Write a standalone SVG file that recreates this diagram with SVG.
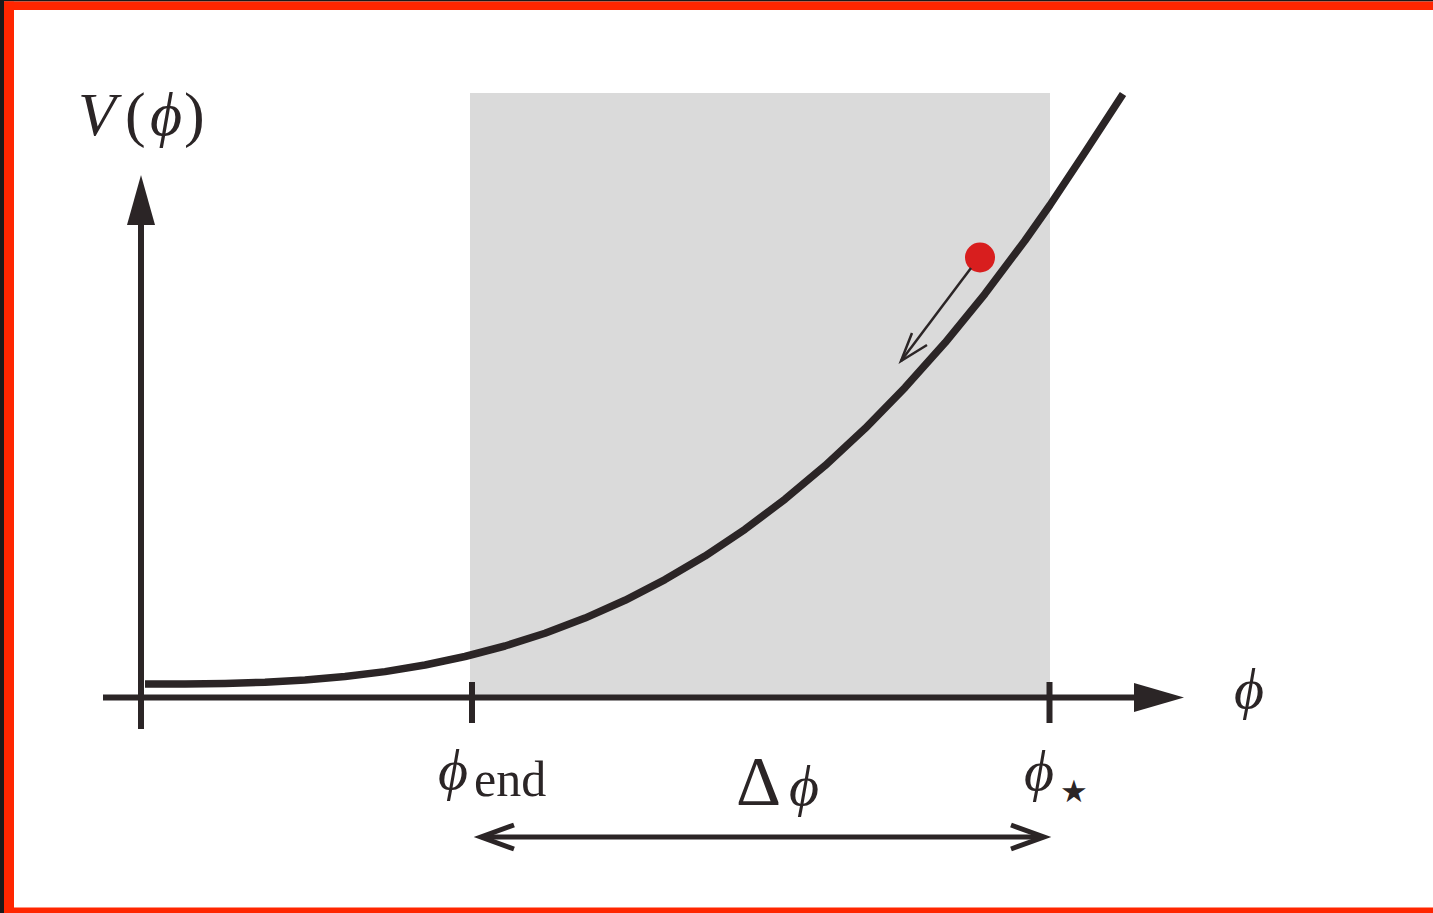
<svg xmlns="http://www.w3.org/2000/svg" width="1433" height="913" viewBox="0 0 1433 913">
<style>
.ax{stroke:#2b2526;stroke-width:6;fill:none}
.crv{stroke:#2b2526;stroke-width:7.5;fill:none;stroke-linecap:butt;stroke-linejoin:round}
.thin{stroke:#2b2526;stroke-width:2.5;fill:none}
.dbl{stroke:#2b2526;stroke-width:5;fill:none}
.m{font-family:"Liberation Serif","DejaVu Serif",serif;fill:#2b2526}
.i{font-style:italic}
</style>
<rect x="0" y="0" width="1433" height="913" fill="#ffffff"/>
<rect x="0" y="0" width="1433" height="1.5" fill="#1a1a1a"/>
<rect x="0" y="0" width="4" height="913" fill="#1a1a1a"/>
<rect x="4" y="1.5" width="1429" height="8.5" fill="#ff2600"/>
<rect x="4" y="1.5" width="10" height="911.5" fill="#ff2600"/>
<rect x="4" y="907.5" width="1429" height="5.5" fill="#ff2600"/>
<g id="region">
<rect x="470" y="93" width="580" height="604" fill="#dadada"/>
</g>
<g id="axes">
<line class="ax" x1="103" y1="697.5" x2="1140" y2="697.5"/>
<polygon points="1134,683 1184,697.5 1134,712" fill="#2b2526"/>
<line class="ax" x1="141" y1="729" x2="141" y2="220"/>
<polygon points="127,225 141,175 155,225" fill="#2b2526"/>
<line class="ax" x1="472" y1="682" x2="472" y2="723"/>
<line class="ax" x1="1049.5" y1="682" x2="1049.5" y2="723"/>
</g>
<g id="curve">
<polyline class="crv" points="145,684 185,683.9 225,683.4 265,682.2 305,679.9 345,676.5 385,671.6 425,665 465,656.5 505,646 545,633.3 585,618.1 625,600.3 665,579.6 705,556.1 745,529.3 785,499.2 825,465.7 865,428.6 905,387.6 945,342.8 985,293.8 1025,240.5 1050,205 1085,152.3 1123,94"/>
</g>
<g id="ball">
<circle cx="980" cy="257.5" r="15" fill="#d81e1e"/>
<line class="thin" x1="971" y1="268" x2="901" y2="361"/>
<polyline class="thin" points="912,333 901,361 927,345"/>
</g>
<g id="delta-arrow">
<line class="dbl" x1="482" y1="837" x2="1043" y2="837"/>
<polyline class="dbl" points="514,825 481,837 514,849"/>
<polyline class="dbl" points="1011,825 1044,837 1011,849"/>
</g>
<g id="labels">
<text class="m" font-size="62"><tspan class="i" x="78" y="135">V</tspan><tspan x="125" y="135">(</tspan><tspan class="i" x="150" y="135">ϕ</tspan><tspan x="184" y="135">)</tspan></text>
<text class="m i" x="1234" y="708" font-size="58">ϕ</text>
<text class="m" font-size="58"><tspan class="i" x="438" y="789">ϕ</tspan><tspan x="474" y="796" font-size="50">end</tspan></text>
<text class="m" font-size="58"><tspan x="736" y="805" font-size="70">Δ</tspan><tspan class="i" x="789" y="805">ϕ</tspan></text>
<text class="m" font-size="58"><tspan class="i" x="1024" y="790">ϕ</tspan><tspan x="1060" y="802" font-size="31" font-family="DejaVu Sans, sans-serif">★</tspan></text>
</g>
</svg>
